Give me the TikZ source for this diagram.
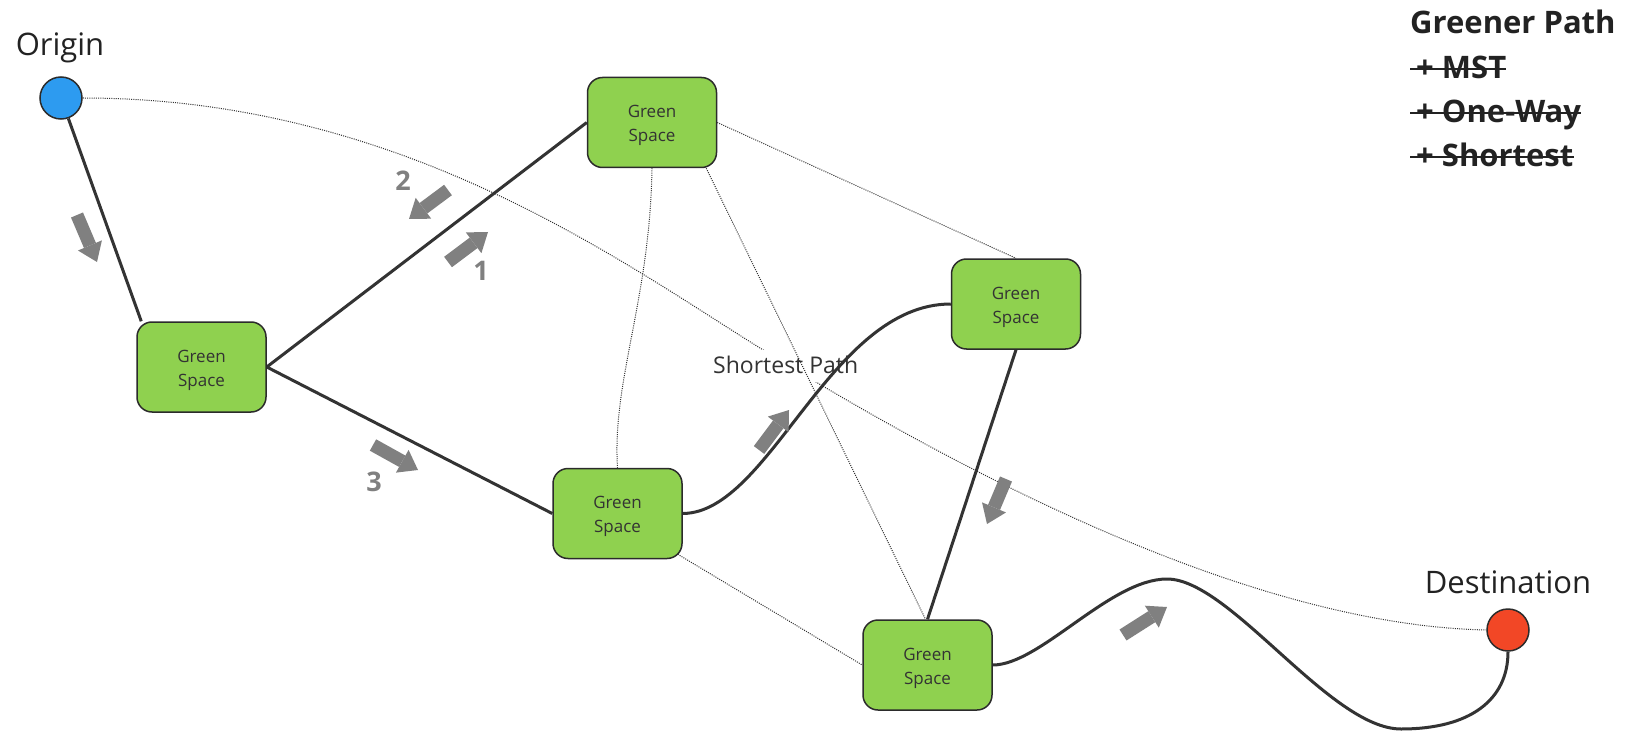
\documentclass[tikz,border=0pt]{standalone}
\usepackage{fontspec}
\setmainfont{Open Sans}
\usetikzlibrary{arrows.meta,backgrounds}
\definecolor{gsfill}{HTML}{8FD14F}
\definecolor{gsline}{HTML}{2B2B2B}
\definecolor{gstext}{HTML}{333333}
\definecolor{conn}{HTML}{333333}
\definecolor{dotc}{HTML}{333333}
\definecolor{arrowc}{HTML}{808080}
\definecolor{origc}{HTML}{2D9BF0}
\definecolor{destc}{HTML}{F24726}
\definecolor{txt}{HTML}{222222}
\begin{document}
\begin{tikzpicture}[x=1pt,y=-1pt,
  gs/.style={draw=gsline, line width=1.5pt, fill=gsfill, rounded corners=15pt,
    minimum width=129pt, minimum height=90pt, inner sep=0pt, align=center,
    text=gstext, font=\fontsize{17}{24}\selectfont},
  endpt/.style={circle, draw=gsline, line width=1.5pt, minimum size=42pt, inner sep=0pt},
  solidc/.style={draw=conn, line width=3pt},
  dotl/.style={draw=dotc, line width=1pt, dash pattern=on 1pt off 1.2pt},
  blockarrow/.style={draw=arrowc, line width=13pt,
    -{Triangle[length=18pt,width=26pt,line width=0pt]}},
  biglabel/.style={font=\fontsize{31}{36}\selectfont, text=txt, inner sep=0pt},
  boldlabel/.style={font=\bfseries\fontsize{31}{36}\selectfont, text=txt, inner sep=0pt},
  numlabel/.style={font=\bfseries\fontsize{27}{30}\selectfont, text=arrowc, inner sep=0pt},
  splabel/.style={font=\fontsize{23}{28}\selectfont, text=gstext, fill=white,
    inner xsep=1pt, inner ysep=6pt, text depth=3pt},
  strikeline/.style={draw=txt, line width=2pt}
]
\useasboundingbox (0,0) rectangle (1633,754);

% nodes
\newcommand{\gstxt}{\rule{0pt}{19pt}Green\\\rule[-5pt]{0pt}{5pt}Space}
\node[gs] (A) at (201.5,367) {\gstxt};
\node[gs] (B) at (652,122.5) {\gstxt};
\node[gs] (C) at (617.5,513.5) {\gstxt};
\node[gs] (D) at (1016,304) {\gstxt};
\node[gs] (E) at (927.5,665) {\gstxt};
\node[endpt, fill=origc] (O) at (61,98) {};
\node[endpt, fill=destc] (Dn) at (1508,630) {};

% labels
\node[biglabel, anchor=base] (ol) at (60,56) {Origin};
\node[biglabel, anchor=base] (dl) at (1508,593) {Destination};
\node[boldlabel, anchor=base west] (gp) at (1410,34) {Greener Path};
\node[boldlabel, anchor=base west] (s1) at (1416,79) {+ MST};
\node[boldlabel, anchor=base west] (s2) at (1416,123) {+ One-Way};
\node[boldlabel, anchor=base west] (s3) at (1416,167) {+ Shortest};
\draw[strikeline] ([xshift=-6pt,yshift=10pt]s1.base west) -- ([yshift=10pt]s1.base east);
\draw[strikeline] ([xshift=-6pt,yshift=10pt]s2.base west) -- ([yshift=10pt]s2.base east);
\draw[strikeline] ([xshift=-6pt,yshift=10pt]s3.base west) -- ([yshift=10pt]s3.base east);

\node[numlabel, anchor=base] (n2) at (403,191) {2};
\node[numlabel, anchor=base] (n1) at (481,280) {1};
\node[numlabel, anchor=base] (n3) at (374,491) {3};

% block arrows
\draw[blockarrow] (77,215) -- (97,262);
\draw[blockarrow] (448,190) -- (409,219);
\draw[blockarrow] (448,262) -- (488,232);
\draw[blockarrow] (373,445) -- (418,470);
\draw[blockarrow] (759,450) -- (789,410);
\draw[blockarrow] (1006,479) -- (987,524);
\draw[blockarrow] (1123,635) -- (1167,607);

\begin{scope}[on background layer]
\fill[white] (0,0) rectangle (1633,754);
\draw[dotl] (O.east) .. controls (400,98) and (620,261) .. (760,348)
  .. controls (960,472) and (1250,625) .. (Dn.west);
\node[splabel, anchor=base west] (sp) at (712,373) {Shortest Path};
\draw[dotl] (B.south) .. controls (650,300) and (612,380) .. (C.north);
\draw[dotl] (B.east) -- (D.north);
\draw[dotl] ([xshift=-11pt]B.south east) -- ([xshift=-2pt]E.north);
\draw[dotl] ([xshift=-5pt,yshift=5pt]C.south east) -- (E.west);
\draw[solidc] (O) -- ([xshift=5pt]A.north west);
\draw[solidc] (A.east) -- (B.west);
\draw[solidc] (A.east) -- (C.west);
\draw[solidc] (C.east) .. controls (770,513) and (830,304) .. (D.west);
\draw[solidc] (D.south) -- (E.north);
\draw[solidc] (E.east) .. controls (1040,665) and (1110,579) .. (1167,579)
  .. controls (1230,579) and (1330,729) .. (1401,729)
  .. controls (1470,729) and (1508,700) .. (Dn.south);
\end{scope}
\end{tikzpicture}
\end{document}
